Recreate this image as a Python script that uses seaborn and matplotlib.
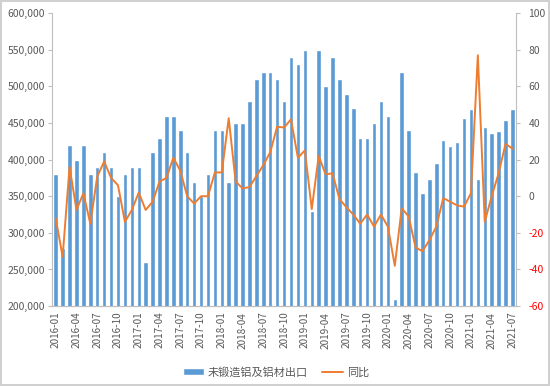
import numpy as np
import pandas as pd
import matplotlib
matplotlib.use("Agg")
import matplotlib.pyplot as plt
import seaborn as sns

months = [f"{y}-{m:02d}" for y in range(2016, 2022) for m in range(1, 13)][:67]

exports = [
    380000, 280000, 420000, 400000, 420000, 380000, 390000, 410000, 390000, 350000, 380000, 390000,
    390000, 260000, 410000, 430000, 460000, 460000, 440000, 410000, 370000, 350000, 380000, 440000,
    440000, 370000, 450000, 450000, 480000, 510000, 520000, 520000, 510000, 480000, 540000, 530000,
    550000, 330000, 550000, 500000, 540000, 510000, 490000, 470000, 430000, 430000, 450000, 480000,
    460000, 210000, 520000, 440000, 383000, 354000, 374000, 395000, 427000, 419000, 424000, 457000,
    469000, 373000, 444000, 437000, 439000, 454000, 469000,
]

yoy = [
    -12, -33, 16, -7.5, 1.6, -15, 10.7, 19, 10, 6, -14, -7.5,
    2, -7.5, -3, 8, 10, 21, 14, 0, -4, 0, 0, 13,
    13, 42.6, 8, 4.3, 5, 11, 17, 24, 38, 37.5, 42, 21,
    25, -7, 22, 12, 12.5, -1.5, -6, -10, -15, -10, -16.6, -10,
    -16.6, -38, -6.6, -11, -28, -30, -24, -16.6, -1, -3, -5, -5.7,
    1.6, 77, -14, 0, 12.5, 28.6, 26,
]

bar_label = "未锻造铝及铝材出口"
line_label = "同比"

left_ticks = [200000, 250000, 300000, 350000, 400000, 450000, 500000, 550000, 600000]
right_ticks = [-60, -40, -20, 0, 20, 40, 60, 80, 100]

sns.set_theme(style="white")
plt.rcParams["font.family"] = ["Noto Sans CJK SC", "DejaVu Sans"]

df = pd.DataFrame({"month": months, "exports": exports, "yoy": yoy, "idx": np.arange(len(months))})

fig = plt.figure(figsize=(5.5, 3.86), dpi=100, edgecolor="#D0D0D0", linewidth=1.5)
ax = fig.add_axes([0.095, 0.207, 0.843, 0.759])

bar_color = "#5B9BD5"
line_color = "#ED7D31"
axis_grey = "#BFBFBF"
text_grey = "#595959"

sns.barplot(data=df, x="month", y="exports", color=bar_color, width=0.65,
            saturation=1, ax=ax, label=bar_label)
ax.set_ylim(200000, 600000)
ax.set_yticks(left_ticks)
ax.set_yticklabels([f"{v:,}" for v in left_ticks], fontsize=7.5, color=text_grey)
ax.set_xlim(-0.5, len(months) - 0.5)
ax.set_xticks(np.arange(0, len(months), 3))
ax.set_xticklabels([months[i] for i in range(0, len(months), 3)], rotation=90,
                   fontsize=7.2, color=text_grey)
ax.set_xticks(np.arange(0, len(months), 3) - 0.5, minor=True)
ax.tick_params(axis="x", which="major", length=0, pad=4)
ax.tick_params(axis="x", which="minor", length=3, color=axis_grey, width=0.8)
ax.tick_params(axis="y", length=3, color=axis_grey, width=0.8, pad=2)
ax.set_xlabel("")
ax.set_ylabel("")

ax2 = ax.twinx()
sns.lineplot(data=df, x="idx", y="yoy", color=line_color, linewidth=1.4, ax=ax2, label=line_label)
ax2.set_ylim(-60, 100)
ax2.set_yticks(right_ticks)
ax2.set_yticklabels([str(v) for v in right_ticks], fontsize=7.5)
for t, v in zip(ax2.get_yticklabels(), right_ticks):
    t.set_color("#FF0000" if v < 0 else text_grey)
ax2.tick_params(axis="y", length=3, color=axis_grey, width=0.8, pad=6)
ax2.set_ylabel("")
ax2.set_xlabel("")
ax2.set_xlim(-0.5, len(months) - 0.5)

for a in (ax, ax2):
    a.spines["top"].set_visible(False)
    for side in ("left", "right", "bottom"):
        a.spines[side].set_color(axis_grey)
        a.spines[side].set_linewidth(0.8)
ax.spines["right"].set_visible(False)
ax2.spines["left"].set_visible(False)

h1, l1 = ax.get_legend_handles_labels()
h2, l2 = ax2.get_legend_handles_labels()
if ax.get_legend():
    ax.get_legend().remove()
if ax2.get_legend():
    ax2.get_legend().remove()
leg = fig.legend(h1 + h2, l1 + l2, loc="center", bbox_to_anchor=(0.502, 0.036), ncol=2,
                 frameon=False, fontsize=8, handlelength=1.9, handleheight=0.6,
                 columnspacing=1.3, handletextpad=0.3)
for t in leg.get_texts():
    t.set_color(text_grey)

fig.savefig("out.png", dpi=100)
